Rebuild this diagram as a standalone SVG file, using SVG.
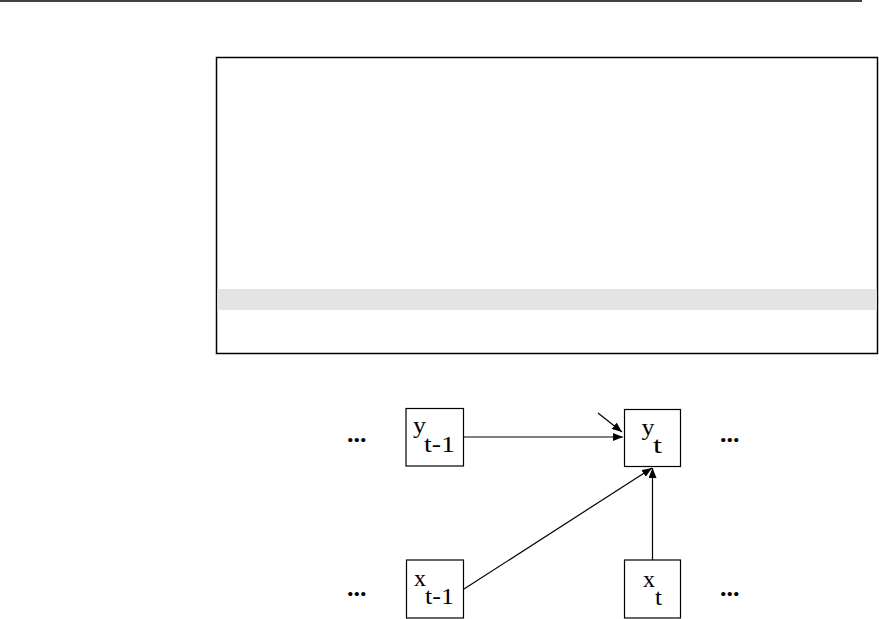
<svg xmlns="http://www.w3.org/2000/svg" width="879" height="619" viewBox="0 0 879 619">
<style>
.node{fill:#fff;stroke:#000;stroke-width:1.2}
.lbl{font-family:"Liberation Serif",serif;font-size:24px;fill:#000}
.dots{font-family:"Liberation Serif",serif;font-size:26px;font-weight:bold;fill:#000}
.edge{stroke:#000;stroke-width:1.2;fill:none;marker-end:url(#ah)}
</style>
<defs>
<marker id="ah" viewBox="0 0 10 8" refX="10" refY="4" markerWidth="10" markerHeight="8" markerUnits="userSpaceOnUse" orient="auto">
<path d="M0,0 L10,4 L0,8 z" fill="#000"/>
</marker>
</defs>
<line x1="0" y1="1" x2="862" y2="1" stroke="#000" stroke-width="1.6"/>
<g id="panel">
<rect x="216.5" y="57.5" width="661" height="296" fill="#fff" stroke="#000" stroke-width="1.5"/>
<rect x="217.3" y="289" width="659.5" height="21" fill="#e4e4e4"/>
</g>
<g id="connectors">
<line class="edge" x1="464" y1="437" x2="623" y2="437"/>
<line class="edge" x1="598" y1="413" x2="622" y2="432"/>
<line class="edge" x1="464" y1="589" x2="652" y2="468"/>
<line class="edge" x1="652.5" y1="560" x2="652.5" y2="468"/>
</g>
<g id="y_tm1">
<rect class="node" x="406" y="408.5" width="57.5" height="57.5"/>
<text class="lbl" x="413" y="433" textLength="13" lengthAdjust="spacingAndGlyphs">y</text><text class="lbl" x="424" y="452" textLength="31" lengthAdjust="spacingAndGlyphs">t-1</text>
</g>
<g id="y_t">
<rect class="node" x="624.5" y="409.5" width="56" height="57"/>
<text class="lbl" x="641.5" y="435" textLength="13" lengthAdjust="spacingAndGlyphs">y</text><text class="lbl" x="653" y="453" textLength="9" lengthAdjust="spacingAndGlyphs">t</text>
</g>
<g id="x_tm1">
<rect class="node" x="406.5" y="560" width="57" height="58"/>
<text class="lbl" x="414" y="586" textLength="12" lengthAdjust="spacingAndGlyphs">x</text><text class="lbl" x="425" y="604" textLength="29" lengthAdjust="spacingAndGlyphs">t-1</text>
</g>
<g id="x_t">
<rect class="node" x="624.5" y="560" width="56" height="58"/>
<text class="lbl" x="643" y="587" textLength="12" lengthAdjust="spacingAndGlyphs">x</text><text class="lbl" x="655" y="605" textLength="7" lengthAdjust="spacingAndGlyphs">t</text>
</g>
<g id="dots">
<text class="dots" x="347" y="442">...</text>
<text class="dots" x="720" y="442">...</text>
<text class="dots" x="347" y="596">...</text>
<text class="dots" x="720" y="596">...</text>
</g>
</svg>
